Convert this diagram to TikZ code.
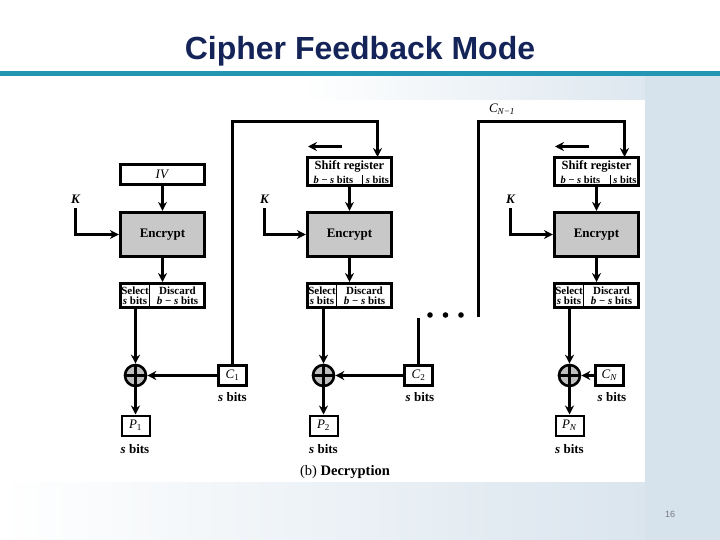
\documentclass[tikz,border=0pt]{standalone}
\usepackage{fontspec}
\setmainfont{Liberation Serif}
\newfontfamily\titlefont{Liberation Sans}
\usetikzlibrary{arrows.meta}
\definecolor{navy}{RGB}{20,36,88}
\definecolor{encgray}{RGB}{200,200,200}
\definecolor{xorgray}{RGB}{190,190,190}
\definecolor{bgblue}{RGB}{214,226,236}
\definecolor{tealc}{RGB}{34,150,178}
\definecolor{pgnum}{RGB}{120,120,130}
\newcommand\sbits{\textit{s} bits}
\begin{document}
\begin{tikzpicture}[x=1pt,y=-1pt,
  encbox/.style={draw,line width=3.2pt,fill=encgray,minimum width=84pt,minimum height=44pt,inner sep=0pt,font=\bfseries\fontsize{13}{13}\selectfont},
  srbox/.style={draw,line width=3.2pt,fill=white,minimum width=84pt,minimum height=28pt,inner sep=0pt},
  ivbox/.style={draw,line width=3.2pt,fill=white,minimum width=84pt,minimum height=20pt,inner sep=0pt,font=\fontsize{13}{13}\selectfont},
  selbox/.style={draw,line width=3pt,fill=white,minimum width=84pt,minimum height=24pt,inner sep=0pt},
  cbox/.style={draw,line width=3pt,fill=white,minimum width=28pt,minimum height=20pt,inner sep=0pt,font=\fontsize{13}{13}\selectfont},
  pbox/.style={draw,line width=2pt,fill=white,minimum width=28pt,minimum height=20pt,inner sep=0pt,font=\fontsize{13}{13}\selectfont},
  cell/.style={inner sep=0pt,align=center,font=\bfseries\fontsize{11}{10.5}\selectfont},
  srtxt/.style={inner sep=0pt,font=\bfseries\fontsize{12.5}{12.5}\selectfont},
  srsub/.style={inner sep=0pt,font=\bfseries\fontsize{10.5}{10.5}\selectfont},
  lbl/.style={inner sep=0pt,font=\bfseries\fontsize{13}{13}\selectfont},
  klbl/.style={inner sep=0pt,font=\bfseries\itshape\fontsize{13}{13}\selectfont},
  xorc/.style={circle,draw,line width=2.6pt,fill=xorgray,minimum size=21pt,inner sep=0pt},
  ar/.style={line width=2.8pt,-{Stealth[length=9pt,width=9pt]}},
  ln/.style={line width=2.8pt},
  thinln/.style={line width=1.3pt}]
\useasboundingbox (0,0) rectangle (720,540);
% ---------- slide background ----------
\fill[white] (0,0) rectangle (720,540);
\shade[left color=white,right color=bgblue] (0,482) rectangle (720,540);
\shade[left color=white,right color=bgblue] (300,76) rectangle (720,100);
\fill[bgblue] (645,76) rectangle (720,540);
\fill[white] (60,100) rectangle (645,482);
\fill[tealc] (0,71) rectangle (720,76);
\node[font=\titlefont\bfseries\fontsize{32}{36}\selectfont,text=navy] (title) at (360,51) {Cipher Feedback Mode};
\node[font=\titlefont\fontsize{9}{9}\selectfont,text=pgnum] (pg) at (670,514) {16};
\coordinate (top) at (0,121.5);
% ---------- column 1 ----------
\node[ivbox] (iv1) at (162.5,174.5) {\textit{IV}};
\node[encbox] (enc1) at (162.5,234.5) {Encrypt};
\node[selbox] (sel1) at (162.5,295.5) {};
\draw[thinln] ([xshift=-13pt]sel1.north) -- ([xshift=-13pt]sel1.south);
\node[cell] (s1a) at (135,295.5) {Select\\\sbits};
\node[cell] (s1b) at (177.5,295.5) {Discard\\\textit{b} − \textit{s} bits};
\node[xorc] (x1) at (135.5,375.5) {};
\draw[line width=2.6pt] (x1.north) -- (x1.south) (x1.west) -- (x1.east);
\node[cbox,line width=3.6pt] (c1) at (232.5,375.5) {\textit{C}\textsubscript{1}};
\node[lbl] (c1b) at (232.5,397) {\sbits};
\node[pbox] (p1) at (135.5,425.5) {\textit{P}\textsubscript{1}};
\node[lbl] (p1b) at (135,449) {\sbits};
\node[klbl] (k1) at (75.5,199) {K};
\draw[ar] (iv1) -- (enc1);
\draw[ar] (enc1) -- (sel1);
\draw[ar] ([yshift=-5pt]k1.south) |- (enc1.west);
\draw[ar] (sel1.south -| x1) -- (x1.north);
\draw[ar] (c1.west) -- (x1.east);
\draw[ar] (x1.south) -- (p1.north);
% ---------- column 2 ----------
\node[srbox] (sr2) at (349.5,171.5) {};
\node[srtxt] (sr2t) at (349.5,166.5) {Shift register};
\node[srsub] (sr2a) at (333.5,180) {\textit{b} − \textit{s} bits};
\node[srsub] (sr2b) at (377.5,180) {\sbits};
\draw[thinln] ([xshift=13pt]sr2.south) -- ++(0,-12);
\coordinate (sa2a) at (342,146.5);
\coordinate (sa2b) at (308,146.5);
\draw[ar] (sa2a) -- (sa2b);
\node[encbox] (enc2) at (349.5,234.5) {Encrypt};
\node[selbox] (sel2) at (349.5,295.5) {};
\draw[thinln] ([xshift=-13pt]sel2.north) -- ([xshift=-13pt]sel2.south);
\node[cell] (s2a) at (322,295.5) {Select\\\sbits};
\node[cell] (s2b) at (364.5,295.5) {Discard\\\textit{b} − \textit{s} bits};
\node[xorc] (x2) at (323.5,375.5) {};
\draw[line width=2.6pt] (x2.north) -- (x2.south) (x2.west) -- (x2.east);
\node[cbox] (c2) at (418.5,375.5) {\textit{C}\textsubscript{2}};
\node[lbl] (c2b) at (420,397) {\sbits};
\node[pbox] (p2) at (323.5,425.5) {\textit{P}\textsubscript{2}};
\node[lbl] (p2b) at (323.5,449) {\sbits};
\node[klbl] (k2) at (264.5,199) {K};
\coordinate (srin2) at (377.5,157);
\draw[ar] (c1.north) -- (c1.north |- top) -| (srin2);
\draw[ar] (sr2) -- (enc2);
\draw[ar] (enc2) -- (sel2);
\draw[ar] ([yshift=-5pt]k2.south) |- (enc2.west);
\draw[ar] (sel2.south -| x2) -- (x2.north);
\draw[ar] (c2.west) -- (x2.east);
\draw[ar] (x2.south) -- (p2.north);
\coordinate (c2end) at (418.5,318);
\draw[ln] (c2.north) -- (c2end);
\fill (430,315) circle (2.8) (445.5,315) circle (2.8) (461,315) circle (2.8);
\node[font=\bfseries\fontsize{14.5}{14.5}\selectfont,inner sep=0pt] (cap) at (345,472) {\mdseries(b) \bfseries Decryption};
% ---------- column 3 ----------
\node[inner sep=0pt,font=\itshape\fontsize{13}{13}\selectfont] (cn1) at (502,109) {C\textsubscript{\textit{N}−1}};
\node[srbox] (sr3) at (596.5,171.5) {};
\node[srtxt] (sr3t) at (596.5,166.5) {Shift register};
\node[srsub] (sr3a) at (580.5,180) {\textit{b} − \textit{s} bits};
\node[srsub] (sr3b) at (625,180) {\sbits};
\draw[thinln] ([xshift=14pt]sr3.south) -- ++(0,-12);
\coordinate (sa3a) at (589,146.5);
\coordinate (sa3b) at (555,146.5);
\draw[ar] (sa3a) -- (sa3b);
\node[encbox] (enc3) at (596.5,234.5) {Encrypt};
\node[selbox] (sel3) at (596.5,295.5) {};
\draw[thinln] ([xshift=-13pt]sel3.north) -- ([xshift=-13pt]sel3.south);
\node[cell] (s3a) at (569,295.5) {Select\\\sbits};
\node[cell] (s3b) at (611.5,295.5) {Discard\\\textit{b} − \textit{s} bits};
\node[xorc] (x3) at (569.5,375.5) {};
\draw[line width=2.6pt] (x3.north) -- (x3.south) (x3.west) -- (x3.east);
\node[cbox] (c3) at (609.5,375.5) {\textit{C}\textsubscript{\textit{N}}};
\node[lbl] (c3b) at (612,397) {\sbits};
\node[pbox] (p3) at (569.5,425.5) {\textit{P}\textsubscript{\textit{N}}};
\node[lbl] (p3b) at (569.5,449) {\sbits};
\node[klbl] (k3) at (510.5,199) {K};
\coordinate (d3) at (478.5,317);
\coordinate (srin3) at (624.5,157);
\draw[ar] (d3) -- (d3 |- top) -| (srin3);
\draw[ar] (sr3) -- (enc3);
\draw[ar] (enc3) -- (sel3);
\draw[ar] ([yshift=-5pt]k3.south) |- (enc3.west);
\draw[ar] (sel3.south -| x3) -- (x3.north);
\draw[ar] (c3.west) -- (x3.east);
\draw[ar] (x3.south) -- (p3.north);
\end{tikzpicture}
\end{document}
